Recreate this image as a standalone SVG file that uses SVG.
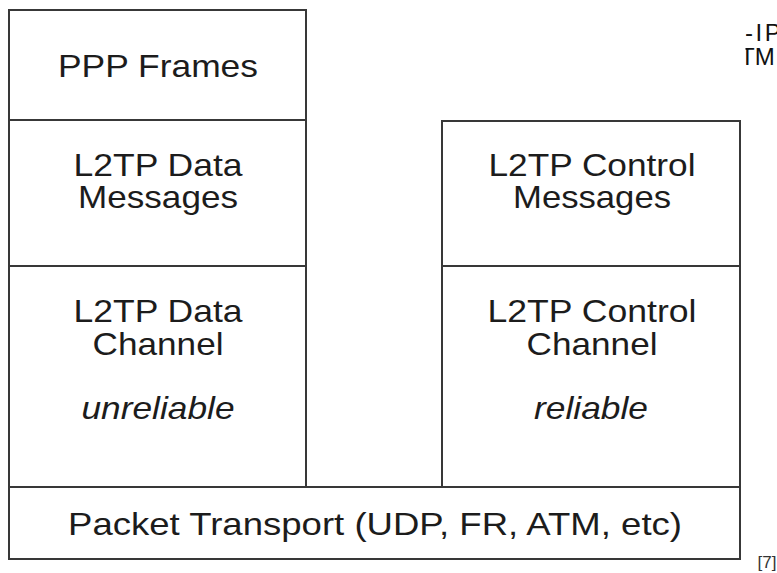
<svg xmlns="http://www.w3.org/2000/svg" width="777" height="573" viewBox="0 0 777 573">
<style>
.box{fill:#fff;stroke:#383838;stroke-width:2}
.t{font-family:"Liberation Sans",Arial,sans-serif;font-size:32px;fill:#1c1c1c;text-anchor:middle}
.i{font-style:italic}
.side{font-family:"Liberation Sans",Arial,sans-serif;font-size:24px;fill:#111}
</style>
<defs>
<clipPath id="cl"><rect x="745.5" y="0" width="40" height="80"/></clipPath>
</defs>
<rect width="777" height="573" fill="#fff"/>
<g id="ppp-frames">
<rect class="box" x="9" y="10" width="297" height="110"/>
<text class="t" x="158" y="77" textLength="200" lengthAdjust="spacingAndGlyphs">PPP Frames</text>
</g>
<g id="l2tp-data-messages">
<rect class="box" x="9" y="120" width="297" height="146"/>
<text class="t" x="158" y="176" textLength="169" lengthAdjust="spacingAndGlyphs">L2TP Data</text>
<text class="t" x="158" y="208" textLength="160" lengthAdjust="spacingAndGlyphs">Messages</text>
</g>
<g id="l2tp-data-channel">
<rect class="box" x="9" y="266" width="297" height="221"/>
<text class="t" x="158" y="322" textLength="169" lengthAdjust="spacingAndGlyphs">L2TP Data</text>
<text class="t" x="158" y="355" textLength="131" lengthAdjust="spacingAndGlyphs">Channel</text>
<text class="t i" x="158" y="419" textLength="153" lengthAdjust="spacingAndGlyphs">unreliable</text>
</g>
<g id="l2tp-control-messages">
<rect class="box" x="442" y="121" width="298" height="145"/>
<text class="t" x="592" y="176" textLength="207" lengthAdjust="spacingAndGlyphs">L2TP Control</text>
<text class="t" x="592" y="208" textLength="158" lengthAdjust="spacingAndGlyphs">Messages</text>
</g>
<g id="l2tp-control-channel">
<rect class="box" x="442" y="266" width="298" height="221"/>
<text class="t" x="592" y="322" textLength="209" lengthAdjust="spacingAndGlyphs">L2TP Control</text>
<text class="t" x="592" y="355" textLength="131" lengthAdjust="spacingAndGlyphs">Channel</text>
<text class="t i" x="591" y="419" textLength="114" lengthAdjust="spacingAndGlyphs">reliable</text>
</g>
<g id="packet-transport">
<rect class="box" x="9" y="487" width="731" height="72"/>
<text class="t" x="375" y="535" textLength="614" lengthAdjust="spacingAndGlyphs">Packet Transport (UDP, FR, ATM, etc)</text>
</g>
<g id="connectors"></g>
<g id="side-text" clip-path="url(#cl)">
<text class="side" x="745" y="41" letter-spacing="2.5">-IP</text>
<text class="side" x="740" y="65">TM</text>
</g>
<text x="757.5" y="568" font-family="'Liberation Sans',Arial,sans-serif" font-size="17" fill="#333">[7]</text>
</svg>
